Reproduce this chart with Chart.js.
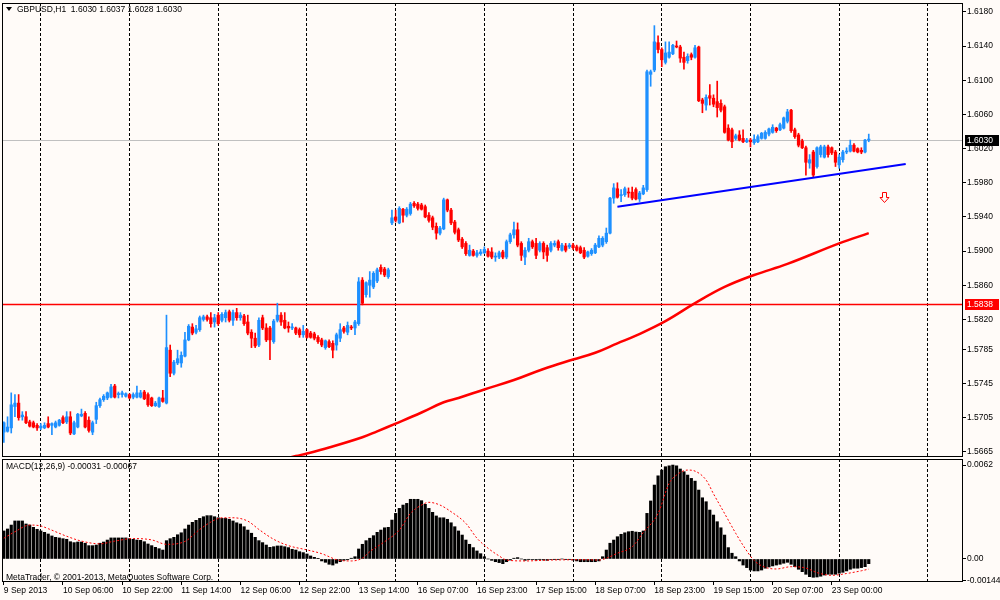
<!DOCTYPE html>
<html>
<head>
<meta charset="utf-8">
<title>GBPUSD,H1</title>
<script src="https://cdn.jsdelivr.net/npm/chart.js@4.4.1/dist/chart.umd.min.js"></script>
<style>
  html, body { margin: 0; padding: 0; background: #fffbf8; }
  #wrap { position: relative; width: 1000px; height: 600px; overflow: hidden; background: #fffbf8; }
  #wrap canvas { position: absolute; left: 0; }
  #price { top: 0; }
  #macd { top: 458px; }
  .note { position: absolute; font: 8.5px 'Liberation Sans', Arial, sans-serif; color: #000; white-space: pre; line-height: 10px; }
  .tri { display: inline-block; width: 0; height: 0; border-left: 3px solid transparent; border-right: 3px solid transparent; border-top: 4px solid #000; margin-right: 5px; vertical-align: 1px; }
</style>
</head>
<body>
<div id="wrap">
  <canvas id="price" width="1000" height="458" style="width:1000px;height:458px"></canvas>
  <canvas id="macd" width="1000" height="142" style="width:1000px;height:142px"></canvas>
  <div class="note" style="left:6px;top:4px"><span class="tri"></span>GBPUSD,H1  1.6030 1.6037 1.6028 1.6030</div>
  <div class="note" style="left:6px;top:461px">MACD(12,26,9) -0.00031 -0.00067</div>
  <div class="note" style="left:6px;top:572px">MetaTrader, © 2001-2013, MetaQuotes Software Corp.</div>
</div>
<script>
(() => {
  'use strict'

  // H1 bars, bar 0 = 9 Sep 2013 14:00; slots after the last bar stay empty (chart shift)
  const slotCount = 260
  const timeLabels = ['9 Sep 2013', '10 Sep 06:00', '10 Sep 22:00', '11 Sep 14:00', '12 Sep 06:00',
    '12 Sep 22:00', '13 Sep 14:00', '16 Sep 07:00', '16 Sep 23:00', '17 Sep 15:00', '18 Sep 07:00',
    '18 Sep 23:00', '19 Sep 15:00', '20 Sep 07:00', '23 Sep 00:00']

  const opens = [
    1.5688, 1.5689, 1.5693, 1.5718, 1.5722, 1.5706, 1.5706, 1.5700, 1.5699, 1.5696,
    1.5693, 1.5693, 1.5698, 1.5696, 1.5694, 1.5696, 1.5705, 1.5700, 1.5706, 1.5686,
    1.5694, 1.5707, 1.5710, 1.5702, 1.5688, 1.5703, 1.5719, 1.5726, 1.5728, 1.5729,
    1.5742, 1.5732, 1.5732, 1.5730, 1.5732, 1.5729, 1.5729, 1.5729, 1.5735, 1.5732,
    1.5728, 1.5719, 1.5718, 1.5728, 1.5722, 1.5784, 1.5757, 1.5769, 1.5769, 1.5777,
    1.5796, 1.5811, 1.5805, 1.5808, 1.5820, 1.5823, 1.5822, 1.5817, 1.5825, 1.5819,
    1.5822, 1.5829, 1.5819, 1.5828, 1.5822, 1.5824, 1.5817, 1.5805, 1.5798, 1.5790,
    1.5822, 1.5810, 1.5810, 1.5794, 1.5819, 1.5825, 1.5819, 1.5812, 1.5810, 1.5810,
    1.5808, 1.5802, 1.5808, 1.5804, 1.5803, 1.5799, 1.5796, 1.5787, 1.5794, 1.5792,
    1.5790, 1.5798, 1.5810, 1.5805, 1.5811, 1.5810, 1.5815, 1.5866, 1.5849, 1.5860,
    1.5858, 1.5865, 1.5881, 1.5879, 1.5870, 1.5933, 1.5940, 1.5933, 1.5949, 1.5942,
    1.5944, 1.5956, 1.5955, 1.5954, 1.5952, 1.5942, 1.5939, 1.5929, 1.5921, 1.5926,
    1.5960, 1.5948, 1.5934, 1.5925, 1.5914, 1.5909, 1.5895, 1.5900, 1.5895, 1.5897,
    1.5898, 1.5900, 1.5899, 1.5893, 1.5893, 1.5899, 1.5893, 1.5911, 1.5919, 1.5925,
    1.5909, 1.5893, 1.5901, 1.5911, 1.5909, 1.5901, 1.5909, 1.5904, 1.5901, 1.5907,
    1.5911, 1.5901, 1.5906, 1.5905, 1.5907, 1.5905, 1.5904, 1.5901, 1.5894, 1.5897,
    1.5898, 1.5905, 1.5907, 1.5911, 1.5921, 1.5962, 1.5973, 1.5965, 1.5966, 1.5969,
    1.5969, 1.5972, 1.5961, 1.5967, 1.5972, 1.6107, 1.6112, 1.6144, 1.6136, 1.6121,
    1.6127, 1.6131, 1.6140, 1.6139, 1.6127, 1.6123, 1.6130, 1.6127, 1.6139, 1.6077,
    1.6071, 1.6082, 1.6079, 1.6075, 1.6073, 1.6069, 1.6044, 1.6042, 1.6032, 1.6036,
    1.6032, 1.6028, 1.6030, 1.6027, 1.6028, 1.6032, 1.6032, 1.6037, 1.6039, 1.6044,
    1.6042, 1.6044, 1.6052, 1.6065, 1.6042, 1.6036, 1.6029, 1.6021, 1.6003, 1.6016,
    1.5999, 1.6013, 1.6010, 1.6022, 1.6021, 1.6016, 1.6001, 1.6007, 1.6016, 1.6017,
    1.6024, 1.6020, 1.6018, 1.6016, 1.6030
  ]
  const highs = [
    1.5700, 1.5706, 1.5734, 1.5732, 1.5732, 1.5712, 1.5712, 1.5702, 1.5701, 1.5698,
    1.5698, 1.5699, 1.5706, 1.5699, 1.5701, 1.5703, 1.5707, 1.5712, 1.5712, 1.5701,
    1.5710, 1.5715, 1.5712, 1.5706, 1.5701, 1.5723, 1.5728, 1.5732, 1.5735, 1.5744,
    1.5744, 1.5735, 1.5736, 1.5734, 1.5733, 1.5734, 1.5742, 1.5737, 1.5737, 1.5734,
    1.5729, 1.5724, 1.5729, 1.5737, 1.5825, 1.5790, 1.5772, 1.5784, 1.5782, 1.5805,
    1.5814, 1.5815, 1.5813, 1.5824, 1.5825, 1.5825, 1.5828, 1.5826, 1.5828, 1.5828,
    1.5831, 1.5831, 1.5831, 1.5833, 1.5828, 1.5826, 1.5825, 1.5808, 1.5804, 1.5822,
    1.5825, 1.5815, 1.5812, 1.5820, 1.5839, 1.5828, 1.5828, 1.5817, 1.5815, 1.5811,
    1.5810, 1.5813, 1.5809, 1.5806, 1.5805, 1.5801, 1.5798, 1.5796, 1.5796, 1.5795,
    1.5804, 1.5815, 1.5812, 1.5817, 1.5813, 1.5819, 1.5869, 1.5869, 1.5864, 1.5876,
    1.5876, 1.5880, 1.5884, 1.5881, 1.5880, 1.5948, 1.5948, 1.5952, 1.5950, 1.5951,
    1.5957, 1.5958, 1.5957, 1.5956, 1.5954, 1.5945, 1.5941, 1.5933, 1.5929, 1.5962,
    1.5961, 1.5950, 1.5936, 1.5927, 1.5916, 1.5911, 1.5907, 1.5902, 1.5901, 1.5902,
    1.5905, 1.5903, 1.5904, 1.5898, 1.5900, 1.5901, 1.5913, 1.5921, 1.5934, 1.5933,
    1.5911, 1.5904, 1.5915, 1.5913, 1.5915, 1.5911, 1.5911, 1.5907, 1.5911, 1.5912,
    1.5913, 1.5909, 1.5909, 1.5909, 1.5909, 1.5907, 1.5906, 1.5904, 1.5900, 1.5903,
    1.5909, 1.5918, 1.5917, 1.5927, 1.5963, 1.5979, 1.5980, 1.5972, 1.5975, 1.5974,
    1.5975, 1.5974, 1.5970, 1.5977, 1.6112, 1.6112, 1.6164, 1.6152, 1.6138, 1.6145,
    1.6145, 1.6142, 1.6146, 1.6141, 1.6133, 1.6131, 1.6132, 1.6141, 1.6140, 1.6079,
    1.6083, 1.6095, 1.6083, 1.6099, 1.6077, 1.6071, 1.6048, 1.6044, 1.6037, 1.6041,
    1.6042, 1.6032, 1.6032, 1.6036, 1.6036, 1.6039, 1.6041, 1.6044, 1.6048, 1.6045,
    1.6050, 1.6057, 1.6066, 1.6066, 1.6044, 1.6038, 1.6031, 1.6023, 1.6013, 1.6018,
    1.6022, 1.6024, 1.6024, 1.6024, 1.6022, 1.6018, 1.6013, 1.6018, 1.6021, 1.6030,
    1.6026, 1.6021, 1.6021, 1.6031, 1.6037
  ]
  const lows = [
    1.5676, 1.5688, 1.5687, 1.5706, 1.5702, 1.5702, 1.5698, 1.5694, 1.5693, 1.5690,
    1.5691, 1.5692, 1.5693, 1.5685, 1.5693, 1.5695, 1.5698, 1.5698, 1.5685, 1.5685,
    1.5693, 1.5706, 1.5693, 1.5688, 1.5685, 1.5698, 1.5717, 1.5724, 1.5726, 1.5728,
    1.5728, 1.5728, 1.5729, 1.5729, 1.5727, 1.5727, 1.5728, 1.5728, 1.5726, 1.5718,
    1.5718, 1.5718, 1.5717, 1.5723, 1.5721, 1.5753, 1.5755, 1.5767, 1.5764, 1.5776,
    1.5795, 1.5802, 1.5803, 1.5806, 1.5818, 1.5818, 1.5811, 1.5811, 1.5813, 1.5817,
    1.5817, 1.5817, 1.5813, 1.5819, 1.5819, 1.5813, 1.5802, 1.5787, 1.5787, 1.5788,
    1.5808, 1.5794, 1.5773, 1.5792, 1.5817, 1.5813, 1.5809, 1.5805, 1.5808, 1.5802,
    1.5799, 1.5799, 1.5798, 1.5798, 1.5796, 1.5792, 1.5788, 1.5785, 1.5787, 1.5775,
    1.5784, 1.5794, 1.5804, 1.5802, 1.5808, 1.5802, 1.5813, 1.5837, 1.5846, 1.5846,
    1.5856, 1.5863, 1.5873, 1.5870, 1.5868, 1.5931, 1.5934, 1.5932, 1.5934, 1.5940,
    1.5942, 1.5951, 1.5948, 1.5948, 1.5939, 1.5934, 1.5925, 1.5914, 1.5919, 1.5925,
    1.5946, 1.5931, 1.5920, 1.5911, 1.5903, 1.5895, 1.5894, 1.5894, 1.5893, 1.5895,
    1.5897, 1.5893, 1.5891, 1.5888, 1.5891, 1.5891, 1.5891, 1.5909, 1.5915, 1.5905,
    1.5889, 1.5884, 1.5899, 1.5903, 1.5891, 1.5899, 1.5891, 1.5888, 1.5899, 1.5905,
    1.5901, 1.5900, 1.5899, 1.5903, 1.5902, 1.5900, 1.5897, 1.5891, 1.5893, 1.5895,
    1.5897, 1.5904, 1.5905, 1.5909, 1.5920, 1.5956, 1.5962, 1.5958, 1.5964, 1.5963,
    1.5960, 1.5960, 1.5958, 1.5966, 1.5970, 1.6093, 1.6110, 1.6132, 1.6116, 1.6119,
    1.6126, 1.6130, 1.6138, 1.6121, 1.6113, 1.6120, 1.6124, 1.6126, 1.6075, 1.6062,
    1.6065, 1.6071, 1.6069, 1.6057, 1.6063, 1.6038, 1.6029, 1.6021, 1.6030, 1.6029,
    1.6027, 1.6027, 1.6022, 1.6025, 1.6027, 1.6031, 1.6031, 1.6035, 1.6038, 1.6039,
    1.6041, 1.6043, 1.6050, 1.6039, 1.6032, 1.6022, 1.6020, 1.5989, 1.5997, 1.5986,
    1.5997, 1.6010, 1.6009, 1.6010, 1.6013, 1.5999, 1.5997, 1.6004, 1.6014, 1.6016,
    1.6016, 1.6015, 1.6014, 1.6015, 1.6028
  ]
  const closes = [
    1.5699, 1.5694, 1.5720, 1.5722, 1.5705, 1.5708, 1.5699, 1.5695, 1.5694, 1.5693,
    1.5695, 1.5696, 1.5694, 1.5698, 1.5699, 1.5702, 1.5699, 1.5706, 1.5687, 1.5699,
    1.5709, 1.5709, 1.5694, 1.5690, 1.5699, 1.5719, 1.5726, 1.5730, 1.5734, 1.5741,
    1.5729, 1.5733, 1.5734, 1.5733, 1.5728, 1.5732, 1.5734, 1.5734, 1.5727, 1.5720,
    1.5719, 1.5722, 1.5728, 1.5724, 1.5787, 1.5757, 1.5770, 1.5774, 1.5778, 1.5796,
    1.5812, 1.5804, 1.5809, 1.5822, 1.5823, 1.5820, 1.5815, 1.5822, 1.5815, 1.5826,
    1.5828, 1.5819, 1.5828, 1.5822, 1.5825, 1.5815, 1.5804, 1.5798, 1.5789, 1.5819,
    1.5810, 1.5796, 1.5796, 1.5818, 1.5825, 1.5817, 1.5810, 1.5810, 1.5811, 1.5804,
    1.5802, 1.5806, 1.5799, 1.5799, 1.5798, 1.5794, 1.5790, 1.5795, 1.5788, 1.5784,
    1.5802, 1.5808, 1.5806, 1.5813, 1.5810, 1.5817, 1.5864, 1.5839, 1.5863, 1.5866,
    1.5874, 1.5878, 1.5876, 1.5872, 1.5878, 1.5939, 1.5936, 1.5950, 1.5942, 1.5949,
    1.5955, 1.5953, 1.5950, 1.5949, 1.5940, 1.5936, 1.5928, 1.5921, 1.5927, 1.5960,
    1.5948, 1.5933, 1.5922, 1.5913, 1.5905, 1.5897, 1.5901, 1.5895, 1.5898, 1.5899,
    1.5902, 1.5894, 1.5893, 1.5894, 1.5898, 1.5893, 1.5911, 1.5919, 1.5925, 1.5907,
    1.5895, 1.5901, 1.5911, 1.5905, 1.5895, 1.5909, 1.5899, 1.5895, 1.5909, 1.5909,
    1.5904, 1.5907, 1.5901, 1.5907, 1.5904, 1.5901, 1.5898, 1.5893, 1.5899, 1.5901,
    1.5907, 1.5915, 1.5915, 1.5921, 1.5962, 1.5974, 1.5963, 1.5966, 1.5973, 1.5968,
    1.5962, 1.5961, 1.5968, 1.5974, 1.6110, 1.6110, 1.6145, 1.6136, 1.6124, 1.6132,
    1.6133, 1.6141, 1.6139, 1.6126, 1.6121, 1.6128, 1.6127, 1.6138, 1.6076, 1.6073,
    1.6080, 1.6079, 1.6072, 1.6068, 1.6065, 1.6039, 1.6030, 1.6028, 1.6035, 1.6030,
    1.6028, 1.6030, 1.6028, 1.6031, 1.6034, 1.6038, 1.6039, 1.6043, 1.6045, 1.6041,
    1.6048, 1.6056, 1.6063, 1.6041, 1.6034, 1.6024, 1.6021, 1.6004, 1.6007, 1.5989,
    1.6021, 1.6022, 1.6022, 1.6013, 1.6015, 1.6004, 1.6010, 1.6016, 1.6017, 1.6024,
    1.6017, 1.6016, 1.6016, 1.6030, 1.6030
  ]

  // moving average (red) and trend line (blue), read at a few bars
  const maIdx = [68, 79, 82, 88, 97, 101, 106, 113, 119, 123, 130, 138, 146, 154, 160, 166, 171, 179, 187, 195, 203, 212, 226, 234]
  const maVals = [1.5648, 1.5660, 1.5663, 1.5670, 1.5682, 1.5689, 1.5698, 1.5711, 1.5723, 1.5728, 1.5738,
    1.5749, 1.5762, 1.5773, 1.5781, 1.5792, 1.5801, 1.5818, 1.5839, 1.5858, 1.5872, 1.5885, 1.5909, 1.5921]
  const trendIdx = [166, 244]
  const trendVals = [1.5952, 1.6002]
  const arrowIdx = 238
  const arrowPrice = 1.5969
  const hLineLevel = 1.5838
  const bidLevel = 1.6030

  const priceTicks = [1.6180, 1.6140, 1.6100, 1.6060, 1.6020, 1.5980, 1.5940, 1.5900, 1.5860, 1.5820,
    1.5785, 1.5745, 1.5705, 1.5665]
  const priceMin = 1.56589
  const priceMax = 1.61905

  const macdVals = [
    0.00185, 0.00198, 0.00224, 0.00251, 0.00251, 0.00251, 0.00231, 0.00224, 0.00209, 0.00196,
    0.00185, 0.00176, 0.00165, 0.00152, 0.00143, 0.00139, 0.00134, 0.00130, 0.00114, 0.00108,
    0.00112, 0.00112, 0.00104, 0.00088, 0.00088, 0.00092, 0.00104, 0.00112, 0.00125, 0.00139,
    0.00139, 0.00139, 0.00139, 0.00139, 0.00134, 0.00130, 0.00125, 0.00123, 0.00114, 0.00099,
    0.00088, 0.00077, 0.00068, 0.00059, 0.00121, 0.00134, 0.00143, 0.00160, 0.00173, 0.00198,
    0.00224, 0.00242, 0.00255, 0.00268, 0.00279, 0.00286, 0.00286, 0.00279, 0.00272, 0.00268,
    0.00268, 0.00262, 0.00251, 0.00239, 0.00231, 0.00213, 0.00191, 0.00170, 0.00143, 0.00121,
    0.00108, 0.00092, 0.00077, 0.00081, 0.00086, 0.00086, 0.00081, 0.00075, 0.00064, 0.00059,
    0.00048, 0.00042, 0.00033, 0.00020, 0.00011, 0.00002, -0.00013, -0.00022, -0.00035, -0.00040,
    -0.00028, -0.00018, -0.00009, -0.00005, 0.00005, 0.00015, 0.00066, 0.00097, 0.00121, 0.00137,
    0.00154, 0.00176, 0.00191, 0.00206, 0.00209, 0.00257, 0.00301, 0.00334, 0.00356, 0.00367,
    0.00394, 0.00394, 0.00394, 0.00385, 0.00361, 0.00334, 0.00308, 0.00284, 0.00272, 0.00272,
    0.00262, 0.00239, 0.00213, 0.00185, 0.00158, 0.00125, 0.00097, 0.00075, 0.00053, 0.00035,
    0.00015, 0.00000, -0.00009, -0.00018, -0.00024, -0.00031, -0.00018, -0.00007, 0.00005, 0.00009,
    0.00000, -0.00009, -0.00002, -0.00004, -0.00007, -0.00002, -0.00007, -0.00009, -0.00004, -0.00002,
    -0.00002, 0.00000, -0.00002, -0.00002, -0.00007, -0.00013, -0.00018, -0.00018, -0.00018, -0.00018,
    -0.00018, -0.00013, 0.00015, 0.00059, 0.00104, 0.00125, 0.00147, 0.00163, 0.00173, 0.00180,
    0.00183, 0.00178, 0.00176, 0.00185, 0.00301, 0.00383, 0.00488, 0.00549, 0.00587, 0.00609,
    0.00615, 0.00620, 0.00615, 0.00594, 0.00576, 0.00554, 0.00532, 0.00514, 0.00455, 0.00404,
    0.00378, 0.00323, 0.00290, 0.00246, 0.00206, 0.00158, 0.00075, 0.00038, 0.00015, -0.00013,
    -0.00040, -0.00057, -0.00073, -0.00079, -0.00079, -0.00073, -0.00061, -0.00053, -0.00046, -0.00040,
    -0.00035, -0.00028, -0.00022, -0.00035, -0.00051, -0.00068, -0.00084, -0.00101, -0.00117, -0.00121,
    -0.00119, -0.00114, -0.00106, -0.00101, -0.00101, -0.00101, -0.00094, -0.00088, -0.00079, -0.00068,
    -0.00061, -0.00061, -0.00057, -0.00051, -0.00031
  ]
  // signal line, read at a few bars
  const signalIdx = [0, 3, 7, 10, 12, 17, 21, 26, 30, 35, 40, 44, 49, 53, 57, 59, 62, 66, 69, 73,
    77, 82, 86, 88, 90, 94, 97, 99, 103, 107, 110, 113, 115, 118, 121, 125, 128, 131, 134, 136,
    141, 148, 157, 161, 163, 166, 170, 173, 177, 180, 182, 185, 187, 190, 192, 195, 198, 200, 203, 206,
    209, 213, 217, 220, 224, 228, 232, 234]
  const signalVals = [0.00137, 0.00180, 0.00224, 0.00218, 0.00200, 0.00150, 0.00118, 0.00100, 0.00118, 0.00135,
    0.00126, 0.00097, 0.00116, 0.00195, 0.00257, 0.00272, 0.00272, 0.00250, 0.00195, 0.00130,
    0.00088, 0.00060, 0.00035, 0.00015, -0.00005, -0.00013, 0.00005, 0.00048, 0.00114, 0.00191,
    0.00301, 0.00356, 0.00374, 0.00356, 0.00312, 0.00235, 0.00137, 0.00071, 0.00020, -0.00007,
    -0.00013, -0.00007, -0.00005, -0.00007, 0.00005, 0.00038, 0.00081, 0.00175, 0.00300, 0.00500,
    0.00554, 0.00587, 0.00580, 0.00521, 0.00430, 0.00300, 0.00170, 0.00090, -0.00010, -0.00055,
    -0.00066, -0.00051, -0.00060, -0.00090, -0.00108, -0.00096, -0.00078, -0.00067]
  const macdTicks = [-0.00144, 0, 0.0062]
  const macdTickLabels = ['-0.00144', '0.00', '0.0062']
  const macdMin = -0.00152
  const macdMax = 0.0066

  const UP = '#1e90ff'
  const DOWN = '#ff0000'
  const BG = '#fffbf8'
  const FAMILY = "'Liberation Sans', Arial, sans-serif"

  Chart.defaults.font.family = FAMILY
  Chart.defaults.font.size = 8.5
  Chart.defaults.color = '#000'

  const slots = Array.from({ length: slotCount }, (_, i) => String(i))
  const sparse = (idx, vals) => {
    const out = new Array(slotCount).fill(null)
    idx.forEach((k, j) => { out[k] = vals[j] })
    return out
  }
  const candleColor = (c) => closes[c.dataIndex] >= opens[c.dataIndex] ? UP : DOWN
  const isLabelTick = (i) => i % 16 === 0 && i / 16 < timeLabels.length

  // keep the plot area exactly where the layout padding puts it
  const squeeze = (w, h) => (s) => {
    s.paddingLeft = s.paddingRight = s.paddingTop = s.paddingBottom = 0
    if (w !== null) s.width = w
    if (h !== null) s.height = h
  }

  const xAxis = (withLabels) => ({
    type: 'category',
    offset: true,
    grid: {
      offset: false,
      lineWidth: 1,
      color: (c) => c.index % 24 === 10 ? '#000' : 'rgba(0,0,0,0)',
      drawTicks: withLabels,
      tickLength: 3,
      tickColor: (c) => isLabelTick(c.index) ? '#000' : 'rgba(0,0,0,0)'
    },
    border: { display: false, dash: [3, 2] },
    ticks: {
      display: withLabels,
      autoSkip: false,
      maxRotation: 0,
      minRotation: 0,
      align: 'start',
      padding: 1,
      callback: (v, i) => isLabelTick(i) ? timeLabels[i / 16] : ''
    },
    afterFit: squeeze(null, withLabels ? 18 : 0)
  })

  const yAxis = (min, max, ticks, label) => ({
    position: 'right',
    min,
    max,
    afterBuildTicks: (s) => { s.ticks = [...ticks].sort((a, b) => a - b).map(v => ({ value: v })) },
    ticks: { autoSkip: false, padding: 1, callback: label },
    grid: { drawOnChartArea: false, tickLength: 3, tickColor: '#000' },
    border: { display: false },
    afterFit: squeeze(37, null)
  })

  const drawFrame = (chart) => {
    const { ctx, chartArea: a } = chart
    ctx.save()
    ctx.strokeStyle = '#000'
    ctx.lineWidth = 1
    ctx.strokeRect(a.left + 0.5, a.top + 0.5, a.right - a.left - 1, a.bottom - a.top - 1)
    ctx.restore()
  }

  const priceOverlay = {
    id: 'priceOverlay',
    beforeDatasetsDraw (chart) {
      const { ctx, chartArea: a, scales: { y } } = chart
      ctx.save()
      ctx.lineWidth = 1
      ctx.strokeStyle = '#c0c0c0'
      let py = Math.round(y.getPixelForValue(bidLevel)) + 0.5
      ctx.beginPath(); ctx.moveTo(a.left, py); ctx.lineTo(a.right, py); ctx.stroke()
      ctx.lineWidth = 1.5
      ctx.strokeStyle = '#ff0000'
      py = Math.round(y.getPixelForValue(hLineLevel)) + 0.5
      ctx.beginPath(); ctx.moveTo(a.left, py); ctx.lineTo(a.right, py); ctx.stroke()
      ctx.restore()
    },
    afterDatasetsDraw (chart) {
      const { ctx, scales: { x, y } } = chart
      const ax = Math.round(x.getPixelForValue(arrowIdx)) + 0.5
      const ay = Math.round(y.getPixelForValue(arrowPrice)) + 0.5
      ctx.save()
      ctx.beginPath()
      ctx.moveTo(ax - 2, ay); ctx.lineTo(ax + 2, ay); ctx.lineTo(ax + 2, ay + 5)
      ctx.lineTo(ax + 4.5, ay + 5); ctx.lineTo(ax, ay + 10); ctx.lineTo(ax - 4.5, ay + 5)
      ctx.lineTo(ax - 2, ay + 5); ctx.closePath()
      ctx.fillStyle = BG
      ctx.fill()
      ctx.strokeStyle = '#ff0000'
      ctx.lineWidth = 1
      ctx.stroke()
      ctx.restore()
    },
    afterDraw (chart) {
      drawFrame(chart)
      const { ctx, chartArea: a, scales: { y } } = chart
      const tag = (value, fill) => {
        const py = Math.round(y.getPixelForValue(value))
        ctx.fillStyle = fill
        ctx.fillRect(a.right + 2, py - 5, 34, 11)
        ctx.fillStyle = '#fff'
        ctx.font = '8.5px ' + FAMILY
        ctx.textBaseline = 'middle'
        ctx.fillText(value.toFixed(4), a.right + 4, py + 0.5)
      }
      ctx.save()
      tag(hLineLevel, '#ff0000')
      tag(bidLevel, '#000')
      ctx.restore()
    }
  }

  const common = {
    responsive: false,
    animation: false,
    devicePixelRatio: 1,
    events: [],
    plugins: { legend: { display: false }, tooltip: { enabled: false } }
  }

  // eslint-disable-next-line no-unused-vars
  const priceChart = new Chart(document.getElementById('price'), {
    type: 'bar',
    data: {
      labels: slots,
      datasets: [{
        type: 'line',
        data: sparse(trendIdx, trendVals),
        borderColor: '#0000ff',
        borderWidth: 2,
        pointRadius: 0,
        spanGaps: true,
        clip: 0,
        order: 1
      }, {
        type: 'line',
        data: sparse(maIdx, maVals),
        borderColor: '#ff0000',
        borderWidth: 2.5,
        pointRadius: 0,
        spanGaps: true,
        tension: 0.4,
        clip: 0,
        order: 2
      }, {
        data: opens.map((o, i) => [o, closes[i]]),
        backgroundColor: candleColor,
        barThickness: 2.6,
        minBarLength: 1,
        grouped: false,
        order: 3
      }, {
        data: lows.map((l, i) => [l, highs[i]]),
        backgroundColor: candleColor,
        barThickness: 1,
        grouped: false,
        order: 4
      }]
    },
    options: {
      ...common,
      layout: { padding: { left: 2, top: 3, right: 0, bottom: 1 } },
      scales: {
        x: xAxis(false),
        y: yAxis(priceMin, priceMax, priceTicks, (v) => v.toFixed(4))
      }
    },
    plugins: [priceOverlay]
  })

  // eslint-disable-next-line no-unused-vars
  const macdChart = new Chart(document.getElementById('macd'), {
    type: 'bar',
    data: {
      labels: slots,
      datasets: [{
        type: 'line',
        data: sparse(signalIdx, signalVals),
        borderColor: '#ff0000',
        borderWidth: 1,
        borderDash: [2, 2],
        pointRadius: 0,
        spanGaps: true,
        cubicInterpolationMode: 'monotone',
        clip: 0,
        order: 1
      }, {
        data: macdVals,
        backgroundColor: '#000',
        barThickness: 2.5,
        order: 2
      }]
    },
    options: {
      ...common,
      layout: { padding: { left: 2, top: 1, right: 0, bottom: 0 } },
      scales: {
        x: xAxis(true),
        y: yAxis(macdMin, macdMax, macdTicks, (v, i) => macdTickLabels[i])
      }
    },
    plugins: [{ id: 'frame', afterDraw: drawFrame }]
  })
})()
</script>
</body>
</html>
